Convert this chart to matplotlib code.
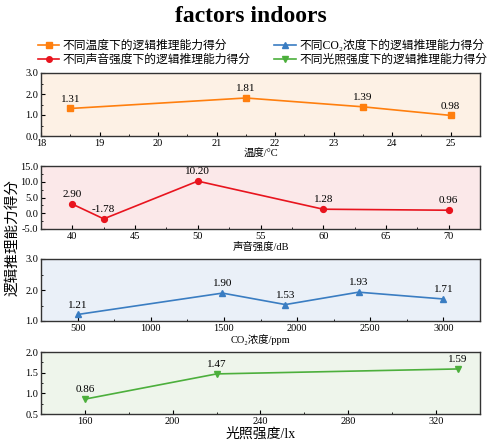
import numpy as np
import matplotlib.pyplot as plt
from matplotlib.ticker import MultipleLocator, FormatStrFormatter
from matplotlib.lines import Line2D

plt.rcParams['font.family'] = ['Liberation Serif', 'Noto Sans CJK SC', 'DejaVu Sans']

# scores under each indoor factor
temp = [18.5, 21.5, 23.5, 25]
temp_score = [1.31, 1.81, 1.39, 0.98]

noise = [40, 42.5, 50, 60, 70]
noise_score = [2.90, -1.78, 10.20, 1.28, 0.96]

co2 = [500, 1490, 1920, 2420, 3000]
co2_score = [1.21, 1.90, 1.53, 1.93, 1.71]

light = [160, 220, 330]
light_score = [0.86, 1.47, 1.59]

labels = ["不同温度下的逻辑推理能力得分", "不同声音强度下的逻辑推理能力得分",
          "不同CO₂浓度下的逻辑推理能力得分", "不同光照强度下的逻辑推理能力得分"]

W, H = 495, 443
fig = plt.figure(figsize=(W / 100, H / 100), dpi=100)

def box(top, bot):
    return [41 / W, 1 - bot / H, 439 / W, (bot - top) / H]

panels = [
    dict(x=temp, y=temp_score, c="#ff7f0e", m="s", fc="#fdf1e5", rect=box(73, 136),
         xlim=(18, 25.5), ylim=(0, 3), xmaj=1, xmin=0.5, ymaj=1, ymin=0.5,
         xl="温度/°C", xls=7.5),
    dict(x=noise, y=noise_score, c="#e8141e", m="o", fc="#fbe8e9", rect=box(166, 229),
         xlim=(37.5, 72.5), ylim=(-5, 15), xmaj=5, xmin=2.5, ymaj=5, ymin=2.5,
         xl="声音强度/dB", xls=7.5),
    dict(x=co2, y=co2_score, c="#3a7dc2", m="^", fc="#eaf0f8", rect=box(259, 321),
         xlim=(250, 3250), ylim=(1, 3), xmaj=500, xmin=250, ymaj=1, ymin=0.5,
         xl="CO₂浓度/ppm", xls=7.5),
    dict(x=light, y=light_score, c="#4caf3c", m="v", fc="#eef5eb", rect=box(352, 414),
         xlim=(140, 340), ylim=(0.5, 2), xmaj=40, xmin=20, ymaj=0.5, ymin=0.25,
         xl="光照强度/lx", xls=10),
]

for p in panels:
    ax = fig.add_axes(p["rect"])
    ax.set_facecolor(p["fc"])
    ax.plot(p["x"], p["y"], color=p["c"], marker=p["m"], markersize=4.2, linewidth=1.2)
    for xv, yv in zip(p["x"], p["y"]):
        ax.annotate(f"{yv:.2f}", (xv, yv), xytext=(0, 3.5), textcoords="offset points",
                    ha="center", va="bottom", fontsize=8)
    ax.set_xlim(*p["xlim"])
    ax.set_ylim(*p["ylim"])
    ax.xaxis.set_major_locator(MultipleLocator(p["xmaj"]))
    ax.xaxis.set_minor_locator(MultipleLocator(p["xmin"]))
    ax.yaxis.set_major_locator(MultipleLocator(p["ymaj"]))
    ax.yaxis.set_minor_locator(MultipleLocator(p["ymin"]))
    ax.yaxis.set_major_formatter(FormatStrFormatter("%.1f"))
    ax.tick_params(which="both", direction="in", labelsize=7.5, pad=2)
    ax.tick_params(which="major", length=3, width=0.8)
    ax.tick_params(which="minor", length=1.5, width=0.6)
    for s in ax.spines.values():
        s.set_color("#333333")
        s.set_linewidth(1.0)
    ax.set_xlabel(p["xl"], fontsize=p["xls"], labelpad=1)

fig.text(251 / W, 1 - 16 / H, "factors indoors", ha="center", va="center",
         fontsize=17, fontweight="bold")
fig.text(12 / W, 1 - 238 / H, "逻辑推理能力得分", rotation=90, ha="center", va="center",
         fontsize=10.5, family=['Noto Sans CJK SC', 'DejaVu Sans'])

handles = [Line2D([], [], color=p["c"], marker=p["m"], markersize=4, linewidth=1.2)
           for p in panels]
fig.legend(handles, labels,
           loc="upper left", bbox_to_anchor=(38 / W, 1 - 40 / H), ncol=2,
           frameon=False, fontsize=8.5, handlelength=1.8, handletextpad=0.3,
           columnspacing=2.0, labelspacing=0.15, borderaxespad=0, borderpad=0)

fig.savefig("out.png", dpi=100)
